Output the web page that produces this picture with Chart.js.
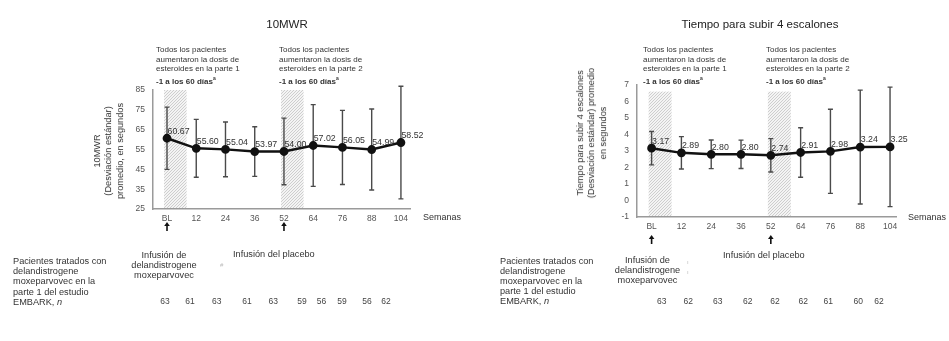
<!DOCTYPE html>
<html><head><meta charset="utf-8">
<script src="https://cdn.jsdelivr.net/npm/chart.js@4.4.1/dist/chart.umd.min.js"></script>
<style>
html,body{margin:0;padding:0;background:#fff;}
#wrap{position:relative;width:949px;height:341px;overflow:hidden;font-family:"Liberation Sans",Arial,sans-serif;color:#333;}
canvas{position:absolute;top:0;}
.t{position:absolute;white-space:nowrap;}
.title{font-size:11.5px;color:#222;transform:translate(-50%,-50%);}
.ann{font-size:8px;line-height:9.7px;color:#333;}
.ytitle{position:absolute;font-size:9.2px;line-height:11.3px;text-align:center;transform:translate(-50%,-50%) rotate(-90deg);white-space:nowrap;color:#333;}
.tab{font-size:9.2px;line-height:10.2px;color:#333;}
.inf{font-size:9.2px;line-height:10.2px;color:#333;text-align:center;transform:translateX(-50%);}
.n{font-size:8.5px;color:#444;transform:translate(-50%,-50%);}
.sem{font-size:9px;color:#333;transform:translateY(-50%);}
</style>
</head><body>
<div id="wrap">
  <canvas id="c1" width="475" height="341" style="left:0"></canvas>
  <canvas id="c2" width="474" height="341" style="left:475px"></canvas>

  <div class="t title" style="left:287px;top:24px">10MWR</div>
  <div class="t title" style="left:760px;top:23.5px">Tiempo para subir 4 escalones</div>

  <div class="t ann" style="left:156px;top:45px">Todos los pacientes<br>aumentaron la dosis de<br>esteroides en la parte 1<br><b>-1 a los 60 días<sup style="font-size:5px">a</sup></b></div>
  <div class="t ann" style="left:279px;top:45px">Todos los pacientes<br>aumentaron la dosis de<br>esteroides en la parte 2<br><b>-1 a los 60 días<sup style="font-size:5px">a</sup></b></div>
  <div class="t ann" style="left:643px;top:45px">Todos los pacientes<br>aumentaron la dosis de<br>esteroides en la parte 1<br><b>-1 a los 60 días<sup style="font-size:5px">a</sup></b></div>
  <div class="t ann" style="left:766px;top:45px">Todos los pacientes<br>aumentaron la dosis de<br>esteroides en la parte 2<br><b>-1 a los 60 días<sup style="font-size:5px">a</sup></b></div>

  <div class="ytitle" style="left:109px;top:151px">10MWR<br>(Desviación estándar)<br>promedio, en segundos</div>
  <div class="ytitle" style="left:591.5px;top:132.5px">Tiempo para subir 4 escalones<br>(Desviación estándar) promedio<br>en segundos</div>

  <div class="t sem" style="left:423px;top:217px">Semanas</div>
  <div class="t sem" style="left:908px;top:217px">Semanas</div>

  <div class="t tab" style="left:13px;top:256px">Pacientes tratados con<br>delandistrogene<br>moxeparvovec en la<br>parte 1 del estudio<br>EMBARK, <i>n</i></div>
  <div class="t tab" style="left:500px;top:255.5px">Pacientes tratados con<br>delandistrogene<br>moxeparvovec en la<br>parte 1 del estudio<br>EMBARK, <i>n</i></div>

  <div class="t inf" style="left:164px;top:249.5px">Infusión de<br>delandistrogene<br>moxeparvovec</div>
  <div class="t tab" style="left:233px;top:249px">Infusión del placebo</div>
  <div class="t" style="left:220px;top:262px;font-size:6px;color:#bbb">#</div>
  <div class="t inf" style="left:647.5px;top:255px">Infusión de<br>delandistrogene<br>moxeparvovec</div>
  <div class="t tab" style="left:723px;top:250px">Infusión del placebo</div>
  <div class="t" style="left:687px;top:257px;font-size:6px;line-height:10px;color:#bbb">ı<br>ı</div>

  <div id="nrow"></div>
</div>
<script>
// ---------- data ----------
const weeks = ['BL','12','24','36','52','64','76','88','104'];
const mwrMean = [60.67, 55.60, 55.04, 53.97, 54.00, 57.02, 56.05, 54.99, 58.52];
const mwrSD   = [15.7, 14.6, 13.8, 12.5, 16.8, 20.6, 18.7, 20.4, 28.4];
const mwrTicks = [25, 35, 45, 55, 65, 75, 85];
const stepMean = [3.17, 2.89, 2.80, 2.80, 2.74, 2.91, 2.98, 3.24, 3.25];
const stepSD   = [1.01, 0.98, 0.87, 0.86, 1.01, 1.50, 2.55, 3.45, 3.62];
const stepTicks = [-1, 0, 1, 2, 3, 4, 5, 6, 7];
const nLeft  = [63, 61, 63, 61, 63, 59, 56, 59, 56, 62];
const nRight = [63, 62, 63, 62, 62, 62, 61, 60, 62];
const arrowWeeks = ['BL','52'];
const hatchWeeks = ['BL','52'];

// positions of n-values (layout, not data)
const nLeftX  = [165, 190, 216.7, 247, 273.3, 302, 321.5, 342, 367, 386];
const nRightX = [661.7, 688.3, 717.7, 747.7, 775, 803.3, 828.3, 858.3, 879];

const nrow = document.getElementById('nrow');
function addN(vals, xs, y){
  vals.forEach((v,i)=>{
    const d=document.createElement('div');
    d.className='t n'; d.style.left=xs[i]+'px'; d.style.top=y+'px'; d.textContent=v;
    nrow.appendChild(d);
  });
}
addN(nLeft, nLeftX, 301);
addN(nRight, nRightX, 300.7);

const FAM = '"Liberation Sans", Arial, sans-serif';

function makePattern(ctx){
  const c=document.createElement('canvas'); c.width=3; c.height=3;
  const g=c.getContext('2d');
  g.fillStyle='#f4f4f4'; g.fillRect(0,0,3,3);
  g.strokeStyle='#c9c9c9'; g.lineWidth=0.9;
  g.beginPath();
  g.moveTo(0,3); g.lineTo(3,0);
  g.moveTo(-1,1); g.lineTo(1,-1);
  g.moveTo(2,4); g.lineTo(4,2);
  g.stroke();
  return ctx.createPattern(c,'repeat');
}

function overlay(means, sds, hatchTop, arrowTop){
  return {
    id:'overlay',
    beforeDatasetsDraw(chart){
      const {ctx, scales:{x,y}} = chart;
      const pat = makePattern(ctx);
      hatchWeeks.forEach(w=>{
        const i = weeks.indexOf(w);
        const x0=x.getPixelForValue(i-0.1), x1=x.getPixelForValue(i+0.67);
        const y0=y.getPixelForValue(hatchTop), y1=y.getPixelForValue(y.min);
        ctx.save(); ctx.fillStyle=pat; ctx.fillRect(x0,y0,x1-x0,y1-y0-1); ctx.restore();
      });
      ctx.save(); ctx.strokeStyle='#4a4a4a'; ctx.lineWidth=1.4;
      means.forEach((m,i)=>{
        const px=x.getPixelForValue(i), t=y.getPixelForValue(m+sds[i]), b=y.getPixelForValue(m-sds[i]);
        ctx.beginPath();
        ctx.moveTo(px,t); ctx.lineTo(px,b);
        ctx.moveTo(px-2.5,t); ctx.lineTo(px+2.5,t);
        ctx.moveTo(px-2.5,b); ctx.lineTo(px+2.5,b);
        ctx.stroke();
      });
      ctx.restore();
    },
    afterDatasetsDraw(chart){
      const {ctx, scales:{x,y}} = chart;
      ctx.save();
      ctx.font = '8.8px '+FAM; ctx.fillStyle='#333';
      ctx.textAlign='left'; ctx.textBaseline='middle';
      means.forEach((m,i)=>{
        ctx.fillText(m.toFixed(2), x.getPixelForValue(i)+0.5, y.getPixelForValue(m)-7);
      });
      ctx.restore();
    },
    afterDraw(chart){
      const {ctx, chartArea:a, scales:{x}} = chart;
      ctx.save(); ctx.fillStyle='#111'; ctx.strokeStyle='#111'; ctx.lineWidth=1.6;
      arrowWeeks.forEach(w=>{
        const px = x.getPixelForValue(weeks.indexOf(w));
        const t = a.bottom + arrowTop;
        ctx.beginPath(); ctx.moveTo(px, t+3); ctx.lineTo(px, t+9); ctx.stroke();
        ctx.beginPath(); ctx.moveTo(px, t); ctx.lineTo(px-2.8, t+4); ctx.lineTo(px+2.8, t+4); ctx.closePath(); ctx.fill();
      });
      ctx.restore();
    }
  };
}

function makeChart(id, means, sds, ticks, ymin, ymax, xmin, xmax, yw, pad, hatchTop, arrowTop){
  return new Chart(document.getElementById(id), {
    type:'line',
    data:{ datasets:[{
      data: means.map((v,i)=>({x:i, y:v})),
      borderColor:'#111', borderWidth:2.4, pointRadius:3.2,
      pointBackgroundColor:'#111', pointBorderColor:'#111', tension:0, clip:false
    }]},
    options:{
      responsive:false, animation:false,
      layout:{padding:pad},
      plugins:{legend:{display:false}, tooltip:{enabled:false}},
      scales:{
        x:{type:'linear', min:xmin, max:xmax,
           afterBuildTicks:s=>{ s.ticks = weeks.map((w,i)=>({value:i})); },
           ticks:{callback:(v,i)=>weeks[i], color:'#555', font:{size:8.5, family:FAM}, padding:5, maxRotation:0, autoSkip:false},
           grid:{display:false, drawTicks:false},
           border:{display:true, color:'#9a9a9a', width:1.5},
           afterFit:s=>{ s.height=20; }},
        y:{type:'linear', min:ymin, max:ymax,
           afterBuildTicks:s=>{ s.ticks = ticks.map(v=>({value:v})); },
           ticks:{color:'#555', font:{size:8.5, family:FAM}, padding:8},
           grid:{display:false, drawTicks:false},
           border:{display:true, color:'#9a9a9a', width:1.5},
           afterFit:s=>{ s.width=yw; }}
      }
    },
    plugins:[overlay(means, sds, hatchTop, arrowTop)]
  });
}

makeChart('c1', mwrMean, mwrSD, mwrTicks, 25, 85, -0.479, 8.31, 153,
  {left:0, right:65, top:90, bottom:112}, 85, 13);
makeChart('c2', stepMean, stepSD, stepTicks, -1, 7, -0.49, 8.2, 162,
  {left:0, right:53, top:85, bottom:104}, 6.6, 18);
</script>
</body></html>
